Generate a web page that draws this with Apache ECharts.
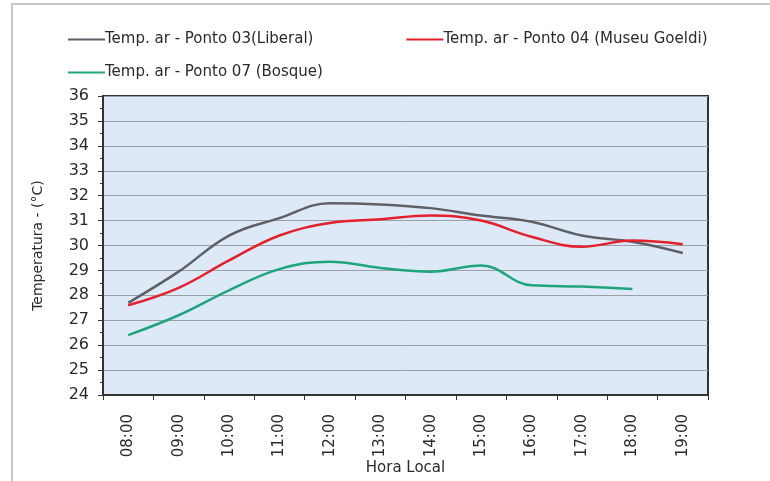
<!DOCTYPE html>
<html>
<head>
<meta charset="utf-8">
<script src="https://cdn.jsdelivr.net/npm/echarts@6/dist/echarts.min.js"></script>
<style>
  html, body { margin: 0; padding: 0; background: #fff; }
  #main { width: 770px; height: 481px; }
</style>
</head>
<body>
<div id="main"></div>
<script type="text/javascript">
var horas = ['08:00', '09:00', '10:00', '11:00', '12:00', '13:00', '14:00', '15:00', '16:00', '17:00', '18:00', '19:00'];
var ponto03 = [27.7, 28.95, 30.4, 31.1, 31.7, 31.65, 31.5, 31.2, 30.95, 30.4, 30.15, 29.7];
var ponto04 = [27.6, 28.3, 29.4, 30.4, 30.9, 31.05, 31.2, 31.0, 30.35, 29.95, 30.2, 30.05];
var ponto07 = [26.4, 27.2, 28.2, 29.05, 29.35, 29.1, 28.95, 29.2, 28.4, 28.35, 28.25];
var nomes = ['Temp. ar - Ponto 03(Liberal)', 'Temp. ar - Ponto 04 (Museu Goeldi)', 'Temp. ar - Ponto 07 (Bosque)'];

var fonte = 'DejaVu Sans';
var myChart = echarts.init(document.getElementById('main'));
var option = {
    backgroundColor: '#fff',
    animation: false,
    textStyle: { fontFamily: fonte },
    graphic: [
        { type: 'line', shape: { x1: 11, y1: 4, x2: 770, y2: 4 }, style: { stroke: '#c8c8c8', lineWidth: 2 } },
        { type: 'line', shape: { x1: 12, y1: 4, x2: 12, y2: 481 }, style: { stroke: '#c8c8c8', lineWidth: 2 } }
    ],
    legend: [
        {
            data: [nomes[0], nomes[1]],
            left: 63, top: 27,
            itemWidth: 37, itemHeight: 14, itemGap: 93,
            icon: 'path://M0,6 L37,6 L37,8 L0,8 Z',
            textStyle: { fontFamily: fonte, fontSize: 15, color: '#2a2a2a', padding: [0, 0, 0, -5] }
        },
        {
            data: [nomes[2]],
            left: 63, top: 60,
            itemWidth: 37, itemHeight: 14,
            icon: 'path://M0,6 L37,6 L37,8 L0,8 Z',
            textStyle: { fontFamily: fonte, fontSize: 15, color: '#2a2a2a', padding: [0, 0, 0, -5] }
        }
    ],
    grid: {
        left: 103, right: 62, top: 96, bottom: 86,
        outerBoundsMode: 'none',
        show: true,
        backgroundColor: '#dde9f7',
        borderColor: '#333',
        borderWidth: 2
    },
    xAxis: {
        type: 'category',
        data: horas,
        boundaryGap: true,
        name: 'Hora Local',
        nameLocation: 'middle',
        nameGap: 66,
        nameMoveOverlap: false,
        nameTextStyle: { fontFamily: fonte, fontSize: 15, color: '#2a2a2a' },
        axisLine: { lineStyle: { color: '#333', width: 2 } },
        axisTick: { show: true, length: 5, lineStyle: { color: '#333' } },
        axisLabel: { rotate: 90, margin: 19, fontFamily: fonte, fontSize: 15, color: '#2a2a2a' },
        splitLine: { show: false }
    },
    yAxis: {
        type: 'value',
        min: 24, max: 36, interval: 1,
        name: 'Temperatura - (°C)',
        nameLocation: 'middle',
        nameGap: 58,
        nameTextStyle: { fontFamily: fonte, fontSize: 14, color: '#2a2a2a' },
        axisLine: { show: true, lineStyle: { color: '#333', width: 2 } },
        axisTick: { show: true, length: 5, lineStyle: { color: '#333' } },
        minorTick: { show: true, splitNumber: 2, length: 3, lineStyle: { color: '#333' } },
        axisLabel: { margin: 14, fontFamily: fonte, fontSize: 16, color: '#2a2a2a' },
        splitLine: { show: true, lineStyle: { color: '#9aa0a8', width: 1 } }
    },
    series: [
        {
            name: nomes[0], type: 'line', data: ponto03, smooth: 0.4,
            symbol: 'none', lineStyle: { color: '#5f5f66', width: 2.5 }, itemStyle: { color: '#5f5f66' }
        },
        {
            name: nomes[1], type: 'line', data: ponto04, smooth: 0.4,
            symbol: 'none', lineStyle: { color: '#e3202c', width: 2.5 }, itemStyle: { color: '#e3202c' }
        },
        {
            name: nomes[2], type: 'line', data: ponto07, smooth: 0.4,
            symbol: 'none', lineStyle: { color: '#1fa57c', width: 2.5 }, itemStyle: { color: '#1fa57c' }
        }
    ]
};
myChart.setOption(option);
</script>
</body>
</html>
